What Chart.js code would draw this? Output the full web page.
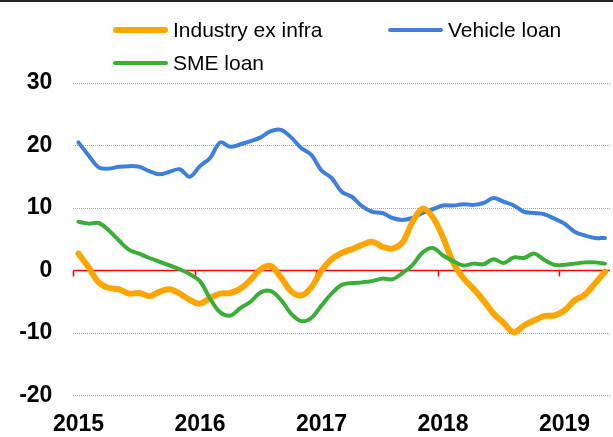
<!DOCTYPE html>
<html>
<head>
<meta charset="utf-8">
<script src="https://cdn.jsdelivr.net/npm/chart.js@4.4.1/dist/chart.umd.min.js"></script>
<style>
    body { margin: 0; overflow: hidden; background: #fff; font-family: "Liberation Sans", Arial, sans-serif; }
    #wrap { position: relative; width: 620px; height: 437px; }
    #topRule { position: absolute; left: 0; top: 0; width: 613px; height: 2px; background: #262626; }
    .legend-item { position: absolute; height: 24px; display: flex; align-items: center; font-size: 21px; color: #000; white-space: nowrap; }
    .legend-swatch { display: inline-block; width: 55px; border-radius: 4px; margin-right: 5px; }
</style>
</head>
<body>
<div id="wrap">
    <canvas id="lineChart" width="620" height="437"></canvas>
    <div id="topRule"></div>
    <div id="legend"></div>
</div>
<script>
// Monthly points, Jan 2015 .. May 2019
const months = [
    'Jan-15', 'Feb-15', 'Mar-15', 'Apr-15', 'May-15', 'Jun-15', 'Jul-15', 'Aug-15', 'Sep-15', 'Oct-15', 'Nov-15', 'Dec-15',
    'Jan-16', 'Feb-16', 'Mar-16', 'Apr-16', 'May-16', 'Jun-16', 'Jul-16', 'Aug-16', 'Sep-16', 'Oct-16', 'Nov-16', 'Dec-16',
    'Jan-17', 'Feb-17', 'Mar-17', 'Apr-17', 'May-17', 'Jun-17', 'Jul-17', 'Aug-17', 'Sep-17', 'Oct-17', 'Nov-17', 'Dec-17',
    'Jan-18', 'Feb-18', 'Mar-18', 'Apr-18', 'May-18', 'Jun-18', 'Jul-18', 'Aug-18', 'Sep-18', 'Oct-18', 'Nov-18', 'Dec-18',
    'Jan-19', 'Feb-19', 'Mar-19', 'Apr-19', 'May-19'
];
const yearLabels = ['2015', '2016', '2017', '2018', '2019'];
const yTicks = [-20, -10, 0, 10, 20, 30];

const industryExInfra = [
    2.7, 0.5, -1.9, -2.8, -3.0, -3.7, -3.6, -4.1, -3.4, -3.0, -3.7, -4.7,
    -5.3, -4.4, -3.7, -3.6, -2.9, -1.5, 0.2, 0.7, -1.1, -3.3, -4.0, -2.7,
    0.0, 1.8, 2.8, 3.4, 4.1, 4.6, 3.8, 3.5, 4.5, 7.8, 9.9, 8.5,
    5.3, 1.3, -1.2, -2.9, -4.8, -6.9, -8.4, -9.9, -8.8, -8.0, -7.3, -7.2,
    -6.4, -4.8, -3.9, -2.1, -0.2
];
const vehicleLoan = [
    20.5, 18.4, 16.5, 16.3, 16.6, 16.7, 16.6, 15.9, 15.4, 15.8, 16.2, 15.0,
    16.7, 18.0, 20.5, 19.8, 20.2, 20.7, 21.3, 22.3, 22.5, 21.3, 19.6, 18.5,
    16.0, 14.8, 12.6, 11.8, 10.3, 9.4, 9.2, 8.4, 8.1, 8.4, 9.2, 9.8,
    10.4, 10.4, 10.6, 10.5, 10.8, 11.6, 11.0, 10.4, 9.4, 9.2, 9.0, 8.3,
    7.5, 6.2, 5.6, 5.2, 5.2
];
const smeLoan = [
    7.8, 7.5, 7.6, 6.4, 4.8, 3.3, 2.7, 2.0, 1.4, 0.8, 0.2, -0.6,
    -1.7, -4.5, -6.7, -7.2, -6.0, -5.0, -3.5, -3.3, -4.7, -6.9, -8.1, -7.6,
    -5.6, -3.7, -2.3, -2.0, -1.9, -1.7, -1.3, -1.4, -0.4, 0.9, 2.9, 3.6,
    2.4, 1.5, 0.8, 1.1, 1.0, 1.8, 1.2, 2.1, 2.0, 2.7, 1.7, 0.9,
    0.9, 1.1, 1.3, 1.3, 1.1
];

const FONT = '"Liberation Sans", Arial, sans-serif';

// red zero axis with small year tick marks
const zeroAxis = {
    id: 'zeroAxis',
    beforeDatasetsDraw(chart) {
        const { ctx, chartArea, scales } = chart;
        const y0 = scales.y.getPixelForValue(0);
        const half = (scales.x.getPixelForValue(1) - scales.x.getPixelForValue(0)) / 2;
        ctx.save();
        ctx.strokeStyle = '#ff0000';
        ctx.lineWidth = 1.5;
        ctx.beginPath();
        ctx.moveTo(chartArea.left, y0);
        ctx.lineTo(chartArea.right, y0);
        months.forEach((m, i) => {
            if (i % 12 === 0) {
                const x = Math.round(scales.x.getPixelForValue(i) - half) + 0.5;
                ctx.moveTo(x, y0);
                ctx.lineTo(x, y0 + 6);
            }
        });
        ctx.stroke();
        ctx.restore();
    }
};

const chart = new Chart(document.getElementById('lineChart'), {
    type: 'line',
    data: {
        labels: months,
        datasets: [
            { label: 'Industry ex infra', data: industryExInfra, borderColor: '#ffa500', borderWidth: 6, order: 1 },
            { label: 'Vehicle loan', data: vehicleLoan, borderColor: '#3f7fdc', borderWidth: 4, order: 2 },
            { label: 'SME loan', data: smeLoan, borderColor: '#3aae36', borderWidth: 4, order: 0 }
        ]
    },
    options: {
        responsive: false,
        animation: false,
        layout: { padding: { top: 83, right: 2, left: 0, bottom: 0 } },
        elements: {
            point: { radius: 0 },
            line: { tension: 0.35, borderCapStyle: 'round', borderJoinStyle: 'round' }
        },
        plugins: { legend: { display: false }, tooltip: { enabled: false } },
        scales: {
            x: {
                offset: true,
                grid: { display: false, drawTicks: false },
                border: { display: false },
                afterFit: s => { s.height = 41.5; },
                ticks: {
                    autoSkip: false,
                    maxRotation: 0,
                    padding: 15,
                    color: '#000',
                    font: { family: FONT, size: 23, weight: 'bold' },
                    callback: (v, i) => (i % 12 === 0 ? yearLabels[i / 12] : '')
                }
            },
            y: {
                min: yTicks[0],
                max: yTicks[yTicks.length - 1],
                afterFit: s => { s.width = 73.4; },
                afterBuildTicks: s => { s.ticks = yTicks.map(v => ({ value: v })); },
                grid: {
                    drawTicks: false,
                    lineWidth: 1,
                    color: c => (c.tick && c.tick.value === 0 ? 'rgba(0,0,0,0)' : '#a6a6a6')
                },
                border: { display: false, dash: [1, 1] },
                ticks: {
                    padding: 21,
                    color: '#000',
                    font: { family: FONT, size: 23, weight: 'bold' }
                }
            }
        }
    },
    plugins: [zeroAxis]
});

// legend laid out like the original (two columns, second row for SME)
const legendSpots = [[113, 18], [388, 18], [113, 51]];
const legendEl = document.getElementById('legend');
chart.data.datasets.forEach((ds, i) => {
    const item = document.createElement('div');
    item.className = 'legend-item';
    item.style.left = legendSpots[i][0] + 'px';
    item.style.top = legendSpots[i][1] + 'px';
    item.innerHTML = `<span class="legend-swatch" style="height:${ds.borderWidth}px;background:${ds.borderColor}"></span>${ds.label}`;
    legendEl.appendChild(item);
});
</script>
</body>
</html>
